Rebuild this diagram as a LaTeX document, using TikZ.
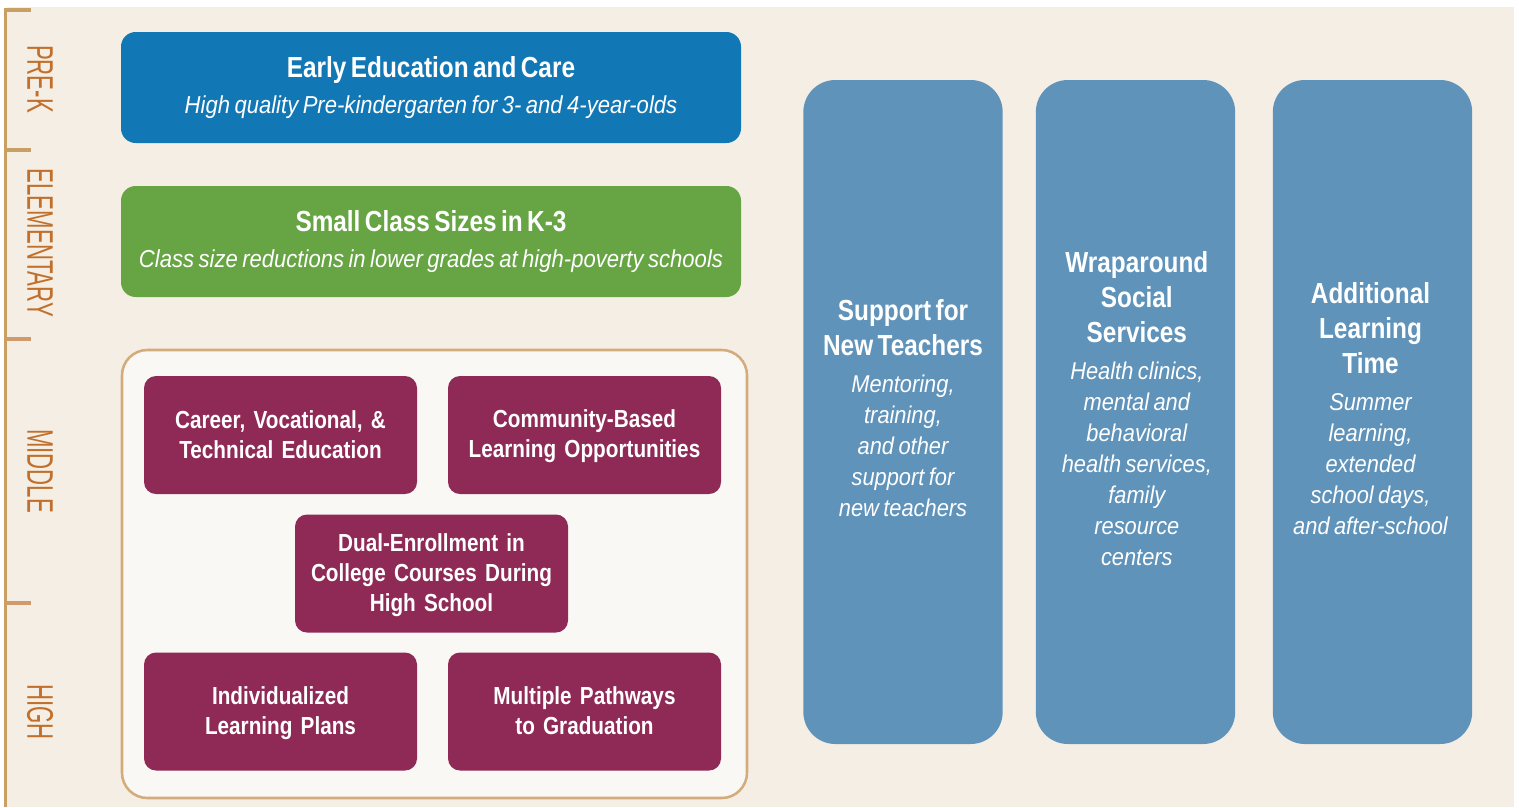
\documentclass[tikz,border=0pt]{standalone}
\usepackage{fontspec}
\setmainfont{Liberation Sans}[FakeStretch=0.84, WordSpace=0.9]
\newfontfamily\itfam{Liberation Sans}[FakeStretch=0.9, WordSpace=0.9]
\newfontfamily\axisfont{Liberation Sans}[FakeStretch=0.6]
\definecolor{bgbeige}{HTML}{F5EEE4}
\definecolor{bracket}{HTML}{C9A063}
\definecolor{tickor}{HTML}{D19A6B}
\definecolor{axistext}{HTML}{C0702C}
\definecolor{topblue}{HTML}{1177B5}
\definecolor{topgreen}{HTML}{67A544}
\definecolor{maroon}{HTML}{8E2A55}
\definecolor{colblue}{HTML}{6093BA}
\definecolor{contfill}{HTML}{FAF8F5}
\definecolor{contline}{HTML}{D4AC7C}
\newcommand{\ttlfont}{\bfseries\fontsize{21.75}{26.25}\selectfont}
\newcommand{\subfont}{\itfam\itshape\fontsize{18.4}{27}\selectfont}
\newcommand{\colitfont}{\itfam\itshape\fontsize{18.2}{23.25}\selectfont}
\newcommand{\mfont}{\bfseries\fontsize{18.5}{22.5}\selectfont}
\newcommand{\mst}{\rule[-3pt]{0pt}{18.5pt}}
\begin{document}
\begin{tikzpicture}[x=0.75pt,y=-0.75pt,
  topbox/.style={rounded corners=11pt, minimum width=465pt, minimum height=83.25pt,
    text=white, text width=460pt, align=center, inner sep=0pt},
  mbox/.style={fill=maroon, rounded corners=9pt, minimum width=204.75pt, minimum height=88.5pt,
    text=white, text width=200pt, align=center, inner sep=0pt, font=\mfont},
  colbox/.style={fill=colblue, rounded corners=24pt, minimum width=149.5pt, minimum height=498pt,
    inner sep=0pt},
  coltext/.style={text=white, text width=145pt, align=center, inner sep=0pt},
  axislabel/.style={rotate=-90, text=axistext, font=\axisfont\fontsize{27.75}{30}\selectfont, inner sep=0pt},
  tickline/.style={line width=3pt}
]
\useasboundingbox (0,0) rectangle (1519,807);
\fill[bgbeige] (7,7) rectangle (1514,807);
% bracket
\coordinate (btop) at (5.5,7.5);
\coordinate (bbot) at (5.5,807);
\draw[bracket, line width=2.4pt] (btop) -- (bbot);
\coordinate (t1a) at (4,9.5);  \coordinate (t1b) at (31,9.5);
\coordinate (t2a) at (7,150);  \coordinate (t2b) at (31,150);
\coordinate (t3a) at (7,339);  \coordinate (t3b) at (31,339);
\coordinate (t4a) at (7,603);  \coordinate (t4b) at (31,603);
\draw[bracket, tickline] (t1a) -- (t1b);
\draw[bracket, tickline] (t2a) -- (t2b);
\draw[tickor, tickline] (t3a) -- (t3b);
\draw[tickor, tickline] (t4a) -- (t4b);
\node[axislabel] (prek) at (40,79) {PRE-K};
\node[axislabel] (elem) at (40,243) {ELEMENTARY};
\node[axislabel] (mid) at (40,471) {MIDDLE};
\node[axislabel] (high) at (40,712) {HIGH};
% top boxes
\node[topbox, fill=topblue] (early) at (431,87.5)
  {{\ttlfont Early Education and Care\par}{\subfont High quality Pre-kindergarten for 3- and 4-year-olds\par}};
\node[topbox, fill=topgreen] (small) at (431,241.5)
  {{\ttlfont Small Class Sizes in K-3\par}{\subfont Class size reductions in lower grades at high-poverty schools\par}};
% container
\node[draw=contline, fill=contfill, line width=1.9pt, rounded corners=19pt,
  minimum width=468.75pt, minimum height=336pt, inner sep=0pt] (cont) at (434.5,574) {};
\node[mbox] (career) at (280.5,435) {\mst Career, Vocational, \&\\Technical Education\mst};
\node[mbox] (comm) at (584.5,435) {\mst Community-Based\\Learning Opportunities\mst};
\node[mbox] (dual) at (431.5,573.5) {\mst Dual-Enrollment in\\College Courses During\\High School\mst};
\node[mbox] (indiv) at (280.5,711.5) {\mst Individualized\\Learning Plans\mst};
\node[mbox] (multi) at (584.5,711.5) {\mst Multiple Pathways\\to Graduation\mst};
% columns
\node[colbox] (teach) at (903,412) {};
\node[colbox] (wrap) at (1135.5,412) {};
\node[colbox] (addl) at (1372.5,412) {};
\node[coltext] (teachtxt) at ([yshift=2.6pt]teach.center)
  {{\ttlfont Support for\\New Teachers\par}\vspace{4.5pt}{\colitfont Mentoring,\\training,\\and other\\support for\\new teachers\par}};
\node[coltext] (wraptxt) at ([xshift=1pt,yshift=2.6pt]wrap.center)
  {{\ttlfont Wraparound\\Social\\Services\par}\vspace{4.5pt}{\colitfont Health clinics,\\mental and\\behavioral\\health services,\\family\\resource\\centers\par}};
\node[coltext] (addltxt) at ([xshift=-1.5pt,yshift=2.6pt]addl.center)
  {{\ttlfont Additional\\Learning\\Time\par}\vspace{4.5pt}{\colitfont Summer\\learning,\\extended\\school days,\\and after-school\par}};
\end{tikzpicture}
\end{document}
